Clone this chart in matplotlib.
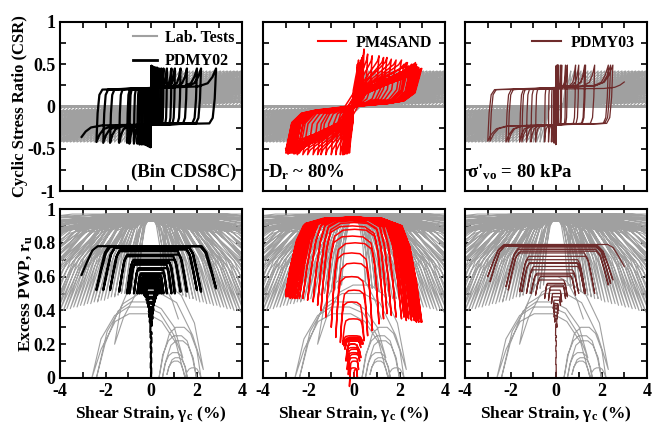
import numpy as np
import matplotlib
matplotlib.use('Agg')
from matplotlib import pyplot as plt
from matplotlib.ticker import MultipleLocator
from matplotlib.lines import Line2D

plt.rcParams['font.family'] = ['Liberation Serif', 'DejaVu Serif']
plt.rcParams['font.weight'] = 'bold'
plt.rcParams['axes.labelweight'] = 'bold'
plt.rcParams['mathtext.fontset'] = 'custom'
plt.rcParams['mathtext.rm'] = 'Liberation Serif:bold'
plt.rcParams['mathtext.it'] = 'Liberation Serif:bold'
plt.rcParams['mathtext.default'] = 'rm'

# ---------------- lab tests: reversal strains (%), ru at reversal, ru plateau ----------------
lab_pos_tip = [0.5, 0.65, 0.8, 0.95, 1.1, 1.25, 1.4, 1.55, 1.7, 1.85,
               2.0, 2.15, 2.3, 2.45, 2.6, 2.75, 2.9, 3.05, 3.2, 3.35,
               3.5, 3.65, 3.8, 3.95, 4.1, 4.25, 4.4, 4.6, 4.8, 5.0,
               5.2, 5.4, 5.6, 5.8, 6.0, 6.3, 6.6, 6.9, 7.2, 7.5,
               7.9, 8.3, 8.8, 9.4, 10, 11, 12.5, 14.5, 17, 21, 27, 36]
lab_neg_tip = [-0.55, -0.7, -0.85, -1.0, -1.15, -1.3, -1.45, -1.6, -1.75, -1.9,
               -2.05, -2.2, -2.35, -2.5, -2.65, -2.8, -2.95, -3.1, -3.25, -3.4,
               -3.55, -3.7, -3.85, -4.0, -4.15, -4.3, -4.45, -4.65, -4.85, -5.05,
               -5.25, -5.45, -5.65, -5.85, -6.05, -6.35, -6.65, -6.95, -7.25, -7.55,
               -7.95, -8.35, -8.85, -9.45, -10.1, -11.1, -12.6, -14.6, -17.1, -21.1, -27.1, -36.1]
lab_pos_ru = [0.56, 0.54, 0.53, 0.52, 0.51, 0.5, 0.49, 0.48, 0.47, 0.47,
              0.46, 0.45, 0.45, 0.44, 0.44, 0.43, 0.43, 0.42, 0.42, 0.41,
              0.41, 0.4, 0.4, 0.39, 0.39, 0.38, 0.38, 0.37, 0.37, 0.36,
              0.36, 0.35, 0.35, 0.34, 0.34, 0.33, 0.33, 0.32, 0.32, 0.31,
              0.31, 0.3, 0.3, 0.29, 0.29, 0.28, 0.28, 0.27, 0.27, 0.26, 0.26, 0.25]
lab_neg_ru = [0.55, 0.53, 0.52, 0.51, 0.5, 0.5, 0.49, 0.48, 0.48, 0.47,
              0.46, 0.46, 0.45, 0.45, 0.44, 0.44, 0.43, 0.43, 0.42, 0.42,
              0.41, 0.41, 0.4, 0.4, 0.39, 0.39, 0.38, 0.38, 0.37, 0.37,
              0.36, 0.36, 0.35, 0.35, 0.34, 0.34, 0.33, 0.33, 0.32, 0.32,
              0.31, 0.31, 0.3, 0.3, 0.29, 0.29, 0.28, 0.28, 0.27, 0.27, 0.26, 0.26]
lab_pos_top = [0.93, 0.95, 0.94, 0.96, 0.95, 0.93, 0.97, 0.94, 0.95, 0.96,
               0.94, 0.95, 0.97, 0.93, 0.95, 0.94, 0.96, 0.95, 0.93, 0.97,
               0.94, 0.95, 0.96, 0.94, 0.95, 0.97, 0.93, 0.95, 0.94, 0.96,
               0.95, 0.93, 0.97, 0.94, 0.95, 0.96, 0.94, 0.95, 0.97, 0.93,
               0.95, 0.94, 0.96, 0.95, 0.93, 0.97, 0.94, 0.95, 0.96, 0.94, 0.95, 0.97]
lab_neg_top = [0.95, 0.94, 0.96, 0.93, 0.95, 0.97, 0.94, 0.95, 0.96, 0.93,
               0.95, 0.94, 0.96, 0.95, 0.93, 0.96, 0.95, 0.94, 0.97, 0.95,
               0.94, 0.96, 0.95, 0.93, 0.95, 0.96, 0.94, 0.95, 0.97, 0.95,
               0.94, 0.96, 0.95, 0.93, 0.95, 0.96, 0.94, 0.95, 0.97, 0.95,
               0.94, 0.96, 0.95, 0.93, 0.95, 0.96, 0.94, 0.95, 0.97, 0.95, 0.94, 0.96]
lab_csr_peak = 0.42
# first cycles of the lab tests (low ru arches)
lab_early_tip = [2.2, 0.35, 2.0, 0.5, 1.6, 0.7, 1.5, -2.6, 1.4, -2.4, 2.3, -1.6, 1.2]
lab_early_ru = [0.0, 0.0, 0.0, 0.0, 0.0, 0.02, 0.0, 0.0, 0.12, 0.0, 0.05, 0.2, 0.35]
lab_early_top = [0.06, 0.3, 0.25, 0.22, 0.15, 0.12, 0.1, 0.38, 0.42, 0.45, 0.5, 0.55, 0.6]

# ---------------- PDMY02 ----------------
pdmy02_tip = [0.01, -0.01, 0.01, -0.01, 0.015, -0.015, 0.02, -0.02, 0.03, -0.03,
              0.04, -0.05, 0.06, -0.07, 0.08, -0.09, 0.1, -0.12, 0.13, -0.15, 0.17, -0.19, 0.21, -0.24,
              0.27, -0.3, 0.35, -0.4, 0.45, -0.5, 0.55, -0.6, 0.7, -0.75, 0.9, -0.95, 1.05, -1.05,
              1.3, -1.4, 1.58, -1.8, 2.02, -2.1, 2.2, -2.4, 2.86, -3.05]
pdmy02_csr = [0.48, -0.48, 0.48, -0.48, 0.48, -0.48, 0.48, -0.48, 0.48, -0.48,
              0.48, -0.48, 0.47, -0.47, 0.47, -0.47, 0.47, -0.47, 0.46, -0.46, 0.46, -0.46, 0.46, -0.45,
              0.46, -0.45, 0.45, -0.45, 0.45, -0.45, 0.45, -0.44, 0.45, -0.44, 0.45, -0.44, 0.45, -0.43,
              0.45, -0.43, 0.45, -0.43, 0.45, -0.43, 0.45, -0.42, 0.45, -0.36]
pdmy02_ru = [0.03, 0.06, 0.09, 0.12, 0.15, 0.18, 0.21, 0.24, 0.26, 0.27,
             0.31, 0.33, 0.35, 0.36, 0.38, 0.39, 0.4, 0.42, 0.43, 0.44, 0.45, 0.46, 0.47, 0.48,
             0.49, 0.49, 0.5, 0.5, 0.5, 0.5, 0.5, 0.5, 0.5, 0.5, 0.5, 0.5, 0.5, 0.5,
             0.51, 0.51, 0.51, 0.52, 0.52, 0.52, 0.51, 0.52, 0.53, 0.61]
pdmy02_top = [0.03, 0.06, 0.09, 0.12, 0.15, 0.18, 0.21, 0.24, 0.26, 0.27,
              0.33, 0.35, 0.37, 0.38, 0.4, 0.41, 0.42, 0.44, 0.45, 0.47, 0.48, 0.5, 0.51, 0.53,
              0.54, 0.55, 0.56, 0.57, 0.58, 0.59, 0.6, 0.61, 0.62, 0.64, 0.65, 0.67, 0.68, 0.69,
              0.7, 0.72, 0.73, 0.75, 0.76, 0.77, 0.77, 0.78, 0.78, 0.78]

# ---------------- PM4SAND ----------------
pm4_tip = [0.15, -0.2, 0.2, -0.25, 0.25, -0.3, 0.3, -0.35, 0.2, -0.3, 0.3, -0.4, 0.35, -0.45, 0.4, -0.5,
           0.44, -0.6, 0.6, -0.8, 0.8, -1.0, 1.1, -1.24, 1.3, -1.45, 1.45, -1.6, 1.64, -1.8, 1.85, -2.04,
           2.09, -2.25, 2.3, -2.49, 2.53, -2.65, 2.75, -2.84, 2.98, -3.0,
           2.2, -2.4, 2.7, -2.6, 2.4, -2.95, 2.85, -2.5, 2.65, -2.75, 2.95, -2.9, 2.35, -2.6, 2.7, -3.0,
           2.5, -2.7, 2.8, -2.9, 2.6, -2.8, 2.9, -3.0]
pm4_csr = [0.5, -0.55, 0.5, -0.55, 0.52, -0.55, 0.52, -0.56, 0.55, -0.56, 0.55, -0.56, 0.58, -0.57, 0.6, -0.57,
           0.68, -0.57, 0.62, -0.57, 0.6, -0.57, 0.6, -0.57, 0.58, -0.57, 0.58, -0.57, 0.56, -0.57, 0.55, -0.57,
           0.55, -0.57, 0.52, -0.57, 0.5, -0.56, 0.5, -0.55, 0.45, -0.55,
           0.5, -0.55, 0.52, -0.56, 0.48, -0.55, 0.46, -0.56, 0.5, -0.55, 0.45, -0.56, 0.52, -0.55, 0.47, -0.52,
           0.48, -0.55, 0.47, -0.56, 0.5, -0.55, 0.44, -0.5]
pm4_ru = [0.0, -0.05, 0.05, 0.02, 0.1, 0.05, 0.12, 0.1, 0.15, 0.15, 0.18, 0.17, 0.2, 0.19, 0.2, 0.2,
          0.22, 0.21, 0.25, 0.24, 0.28, 0.3, 0.32, 0.36, 0.35, 0.4, 0.38, 0.43, 0.37, 0.45, 0.36, 0.46,
          0.35, 0.47, 0.34, 0.48, 0.34, 0.48, 0.33, 0.48, 0.33, 0.48,
          0.36, 0.47, 0.34, 0.48, 0.35, 0.49, 0.33, 0.47, 0.34, 0.48, 0.33, 0.49, 0.36, 0.47, 0.34, 0.5,
          0.35, 0.47, 0.34, 0.48, 0.36, 0.47, 0.35, 0.5]
pm4_top = [0.05, 0.06, 0.1, 0.12, 0.14, 0.15, 0.17, 0.18, 0.2, 0.2, 0.22, 0.22, 0.23, 0.23, 0.24, 0.25,
           0.35, 0.45, 0.52, 0.6, 0.68, 0.74, 0.8, 0.84, 0.88, 0.9, 0.92, 0.93, 0.94, 0.94, 0.95, 0.94,
           0.95, 0.95, 0.95, 0.94, 0.95, 0.95, 0.95, 0.94, 0.95, 0.95,
           0.94, 0.95, 0.95, 0.94, 0.95, 0.95, 0.94, 0.95, 0.95, 0.94, 0.95, 0.95, 0.94, 0.95, 0.95, 0.94,
           0.94, 0.95, 0.95, 0.94, 0.95, 0.94, 0.95, 0.95]

# ---------------- PDMY03 ----------------
pdmy03_tip = [0.01, -0.01, 0.01, -0.01, 0.015, -0.015, 0.02, -0.02,
              0.04, -0.05, 0.06, -0.08, 0.08, -0.1, 0.11, -0.12, 0.2, -0.2, 0.25, -0.33,
              0.42, -0.5, 0.5, -0.9, 0.86, -1.1, 1.0, -1.3, 1.26, -1.5, 1.3, -1.6,
              1.7, -2.1, 2.3, -2.2, 2.4, -2.9, 2.5, -3.0, 3.0]
pdmy03_csr = [0.48, -0.45, 0.48, -0.45, 0.48, -0.45, 0.48, -0.44,
              0.49, -0.43, 0.49, -0.43, 0.49, -0.43, 0.49, -0.42, 0.49, -0.42, 0.49, -0.42,
              0.49, -0.42, 0.49, -0.42, 0.49, -0.42, 0.49, -0.42, 0.49, -0.42, 0.49, -0.42,
              0.49, -0.42, 0.49, -0.42, 0.49, -0.41, 0.49, -0.41, 0.29]
pdmy03_ru = [0.04, 0.08, 0.12, 0.16, 0.19, 0.22, 0.24, 0.25,
             0.3, 0.33, 0.35, 0.36, 0.38, 0.39, 0.4, 0.41, 0.43, 0.44, 0.45, 0.46,
             0.47, 0.47, 0.48, 0.49, 0.49, 0.5, 0.5, 0.5, 0.5, 0.51, 0.5, 0.51,
             0.5, 0.52, 0.55, 0.54, 0.56, 0.57, 0.58, 0.6, 0.66]
pdmy03_top = [0.04, 0.08, 0.12, 0.16, 0.19, 0.22, 0.24, 0.25,
              0.32, 0.35, 0.37, 0.39, 0.41, 0.42, 0.43, 0.44, 0.46, 0.48, 0.5, 0.52,
              0.54, 0.55, 0.56, 0.58, 0.6, 0.61, 0.62, 0.64, 0.66, 0.68, 0.68, 0.7,
              0.72, 0.74, 0.75, 0.76, 0.77, 0.78, 0.78, 0.78, 0.79]

# half-cycle shape templates (fraction of strain excursion; level 0->1 start->plateau, 1->2 plateau->end)
pdmy_ts_csr = np.array([0, 0.01, 0.025, 0.05, 0.5, 0.85, 0.93, 0.97, 1.0])
pdmy_tl_csr = np.array([0, 0.55, 0.9, 1.0, 1.08, 1.15, 1.3, 1.6, 2.0])
pdmy_ts_ru = np.array([0, 0.04, 0.08, 0.12, 0.5, 0.88, 0.92, 0.96, 1.0])
pdmy_tl_ru = np.array([0, 0.45, 0.85, 1.0, 1.0, 1.0, 1.15, 1.55, 2.0])
pm4_ts_csr = np.array([0, 0.05, 0.13, 0.25, 0.42, 0.5, 0.58, 0.75, 0.9, 0.97, 1.0])
pm4_tl_csr = np.array([0, 0.64, 0.85, 0.92, 0.97, 1.0, 1.35, 1.6, 1.8, 1.9, 2.0])
pm4_ts_ru = np.array([0, 0.04, 0.09, 0.15, 0.3, 0.5, 0.7, 0.85, 0.91, 0.96, 1.0])
pm4_tl_ru = np.array([0, 0.38, 0.72, 0.92, 0.99, 1.0, 1.01, 1.08, 1.28, 1.62, 2.0])
lab_ts_ru = np.array([0, 0.1, 0.25, 0.4, 0.6, 0.75, 0.9, 1.0])
lab_tl_ru = np.array([0, 0.55, 0.88, 1.0, 1.0, 1.12, 1.55, 2.0])
lab_ramp_t = np.array([0, 0.35, 0.65, 0.85, 1.0])
lab_ramp_y = np.array([0.02, 0.15, 0.27, 0.36, 0.42])

LAB_C = '#a0a0a0'


def level(y0, f, y1, tl):
    return np.where(tl <= 1, y0 + tl * (f - y0), f + (tl - 1) * (y1 - f))


def trace(tips, ends, tops, ts, tl, x_start=0.0, y_start=0.0):
    xs, ys = [x_start], [y_start]
    x0, y0 = x_start, y_start
    for x1, y1, f in zip(tips, ends, tops):
        xs.extend(list(x0 + ts[1:] * (x1 - x0)))
        ys.extend(list(level(y0, f, y1, tl[1:])))
        x0, y0 = x1, y1
    return np.array(xs), np.array(ys)


def csr_trace(tips, csr, flat, ts, tl):
    tops = [np.sign(c) * flat for c in csr]
    return trace(tips, csr, tops, ts, tl)


def lab_csr_trace(tips, peak):
    xs, ys = [0.0], [0.0]
    x0 = 0.0
    for x1 in tips:
        s = np.sign(x1)
        xs += [x0 + s * 0.1, x0 + s * 0.25, s * 0.3]
        ys += [-s * 0.05, -s * 0.01, s * 0.01]
        xs += list(s * 0.3 + lab_ramp_t[1:] * (x1 - s * 0.3))
        ys += list(s * lab_ramp_y[1:] * peak / 0.42)
        x0 = x1
    return np.array(xs), np.array(ys)


def interleave(a, b):
    out = []
    for p, q in zip(a, b):
        out += [p, q]
    return out


lab_tip = interleave(lab_pos_tip, lab_neg_tip)
lab_tip_ru = interleave(lab_pos_ru, lab_neg_ru)
lab_top_ru = interleave(lab_pos_top, lab_neg_top)

fig = plt.figure(figsize=(6.6, 4.29), dpi=100)
col_left = [60 / 660, 263 / 660, 465 / 660]
row_bottom = [238 / 429, 51 / 429]
w, h = 182 / 660, 169 / 429

lab_x_csr, lab_y_csr = lab_csr_trace(lab_tip, lab_csr_peak)
lab_x_ru, lab_y_ru = trace(lab_tip, lab_tip_ru, lab_top_ru, lab_ts_ru, lab_tl_ru, 1.2, 0.6)
early_x, early_y = trace(lab_early_tip, lab_early_ru, lab_early_top, lab_ts_ru, lab_tl_ru, 1.5, 0.0)

models = [
    ('PDMY02', 'black', 1.6, pdmy02_tip, pdmy02_csr, pdmy02_ru, pdmy02_top, 0.2,
     pdmy_ts_csr, pdmy_tl_csr, pdmy_ts_ru, pdmy_tl_ru),
    ('PM4SAND', '#ff0000', 1.1, pm4_tip, pm4_csr, pm4_ru, pm4_top, 0.0,
     pm4_ts_csr, pm4_tl_csr, pm4_ts_ru, pm4_tl_ru),
    ('PDMY03', '#6e2b2b', 0.9, pdmy03_tip, pdmy03_csr, pdmy03_ru, pdmy03_top, 0.2,
     pdmy_ts_csr, pdmy_tl_csr, pdmy_ts_ru, pdmy_tl_ru),
]

for j, (name, color, lw, tips, csr, ru, top, flat, tsc, tlc, tsr, tlr) in enumerate(models):
    ax1 = fig.add_axes([col_left[j], row_bottom[0], w, h])
    ax2 = fig.add_axes([col_left[j], row_bottom[1], w, h])

    ax1.plot(lab_x_csr, lab_y_csr, color=LAB_C, lw=0.9)
    xc, yc = csr_trace(tips, csr, flat, tsc, tlc)
    ax1.plot(xc, yc, color=color, lw=lw)

    ax2.plot(lab_x_ru, lab_y_ru, color=LAB_C, lw=0.8)
    ax2.plot(early_x, early_y, color=LAB_C, lw=0.8)
    xr, yr = trace(tips, ru, top, tsr, tlr)
    ax2.plot(xr, yr, color=color, lw=lw, clip_on=(name != 'PM4SAND'))

    for ax in (ax1, ax2):
        ax.set_xlim(-4, 4)
        ax.xaxis.set_major_locator(MultipleLocator(2))
        ax.xaxis.set_minor_locator(MultipleLocator(1))
        ax.tick_params(which='both', direction='in', top=True, right=True, width=1.2, labelsize=13,
                       length=4)
        for sp in ax.spines.values():
            sp.set_linewidth(1.5)

    ax1.set_ylim(-1, 1)
    ax1.yaxis.set_minor_locator(MultipleLocator(0.25))
    ax1.set_yticks([-1, -0.5, 0, 0.5, 1])
    ax1.set_yticklabels([])
    ax1.tick_params(labelbottom=False)
    ax2.set_ylim(0, 1)
    ax2.yaxis.set_minor_locator(MultipleLocator(0.1))
    ax2.set_yticks([0, 0.2, 0.4, 0.6, 0.8, 1])
    ax2.set_xticks([-4, -2, 0, 2, 4])
    ax2.set_xticklabels(['-4', '-2', '0', '2', '4'])
    ax2.set_xlabel('Shear Strain, γ$_c$ (%)', fontsize=12.5, labelpad=3)

    if j == 0:
        ax1.set_yticklabels(['-1', '-0.5', '0', '0.5', '1'])
        ax1.set_ylabel('Cyclic Stress Ratio (CSR)', fontsize=12, labelpad=-1)
        ax2.set_yticklabels(['0', '0.2', '0.4', '0.6', '0.8', '1'])
        ax2.set_ylabel('Excess PWP, r$_u$', fontsize=12.5, labelpad=-1)
        handles = [Line2D([], [], color=LAB_C, lw=1.5), Line2D([], [], color=color, lw=2)]
        ax1.legend(handles, ['Lab. Tests', name], loc='upper right', frameon=False, fontsize=11.5,
                   handlelength=1.5, borderaxespad=0.1, labelspacing=0.45, handletextpad=0.5)
        ax1.text(0.97, 0.11, '(Bin CDS8C)', transform=ax1.transAxes, ha='right', va='center',
                 fontsize=13.5)
    else:
        ax2.set_yticklabels([])
        handles = [Line2D([], [], color=color, lw=1.5)]
        ax1.legend(handles, [name], loc='upper right', frameon=False, fontsize=11.5,
                   handlelength=1.8, borderaxespad=0.4, handletextpad=0.6)
    if j == 1:
        ax1.text(0.03, 0.11, 'D$_r$ ~ 80%', transform=ax1.transAxes, ha='left', va='center',
                 fontsize=13.5)
    if j == 2:
        ax1.text(0.01, 0.11, "σ'$_{vo}$ = 80 kPa", transform=ax1.transAxes, ha='left', va='center',
                 fontsize=13.5)

fig.savefig('out.png', dpi=100)
